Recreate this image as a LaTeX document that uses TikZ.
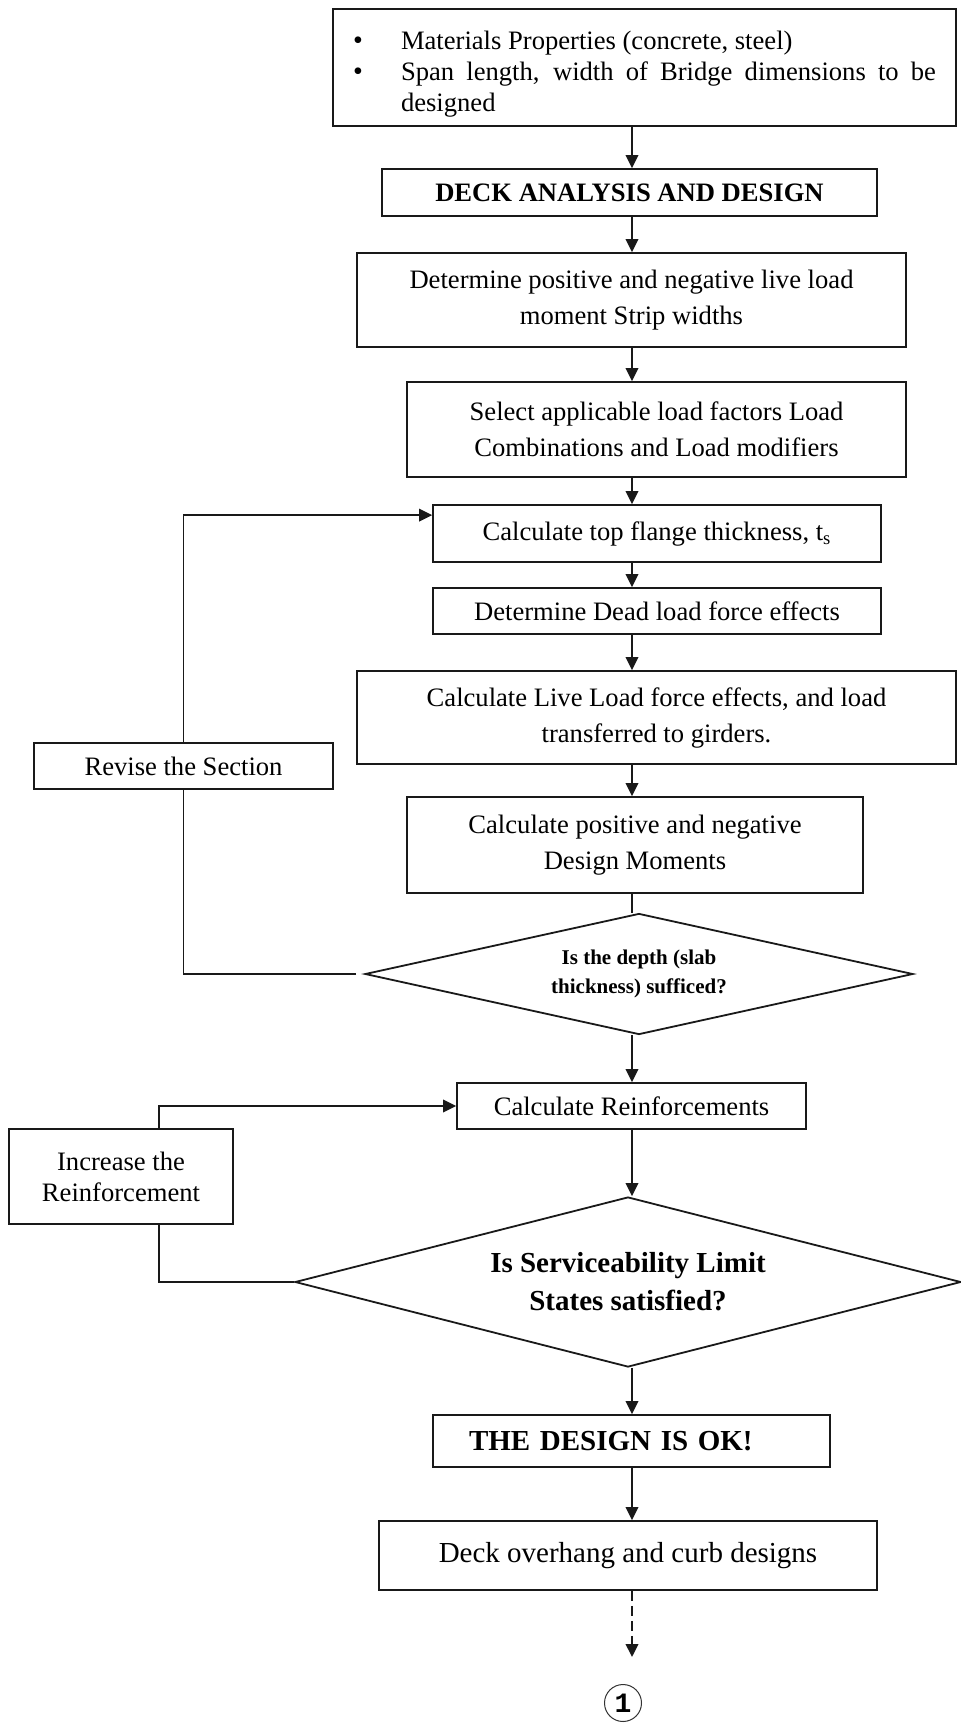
\documentclass[tikz,border=0pt]{standalone}
\usepackage{fontspec}
\setmainfont{Liberation Serif}
\setmonofont{Liberation Mono}
\usetikzlibrary{arrows.meta,positioning,calc,shapes.geometric}

\newcommand\bulpar[1]{\par\noindent\hangindent=24pt\hangafter=1%
  \makebox[24pt][l]{\raisebox{-0.4pt}{\fontsize{14}{14}\selectfont\textbullet}}#1\par}

\begin{document}
\begin{tikzpicture}[
  x=0.5pt,y=-0.5pt,
  font=\fontsize{13.3}{18}\selectfont,
  proc/.style={draw=black!90,line width=0.9pt,align=center,inner sep=0pt},
  decide/.style={diamond,draw=black!90,line width=0.9pt,align=center,inner sep=0pt,
                 font=\bfseries\fontsize{10.5}{14.3}\selectfont},
  wire/.style={draw=black!90,line width=0.8pt},
  flow/.style={wire,-{Triangle[length=6.5pt,width=6.3pt]}},
  conn/.style={circle,draw=black!80,line width=0.5pt,minimum size=18.5pt,inner sep=0pt,
               font=\ttfamily\bfseries\fontsize{14}{14}\selectfont}
]
\useasboundingbox (0,0) rectangle (960,1723);

% ---- input data ----
\node[proc,minimum width=311.5pt,minimum height=58.5pt,text width=291.5pt,inner xsep=10pt,
      align=justify,font=\fontsize{13.3}{15.5}\selectfont] (inputs) at (644.5,67.5)
  {\tolerance=10000
   \bulpar{Materials Properties (concrete, steel)}
   \bulpar{Span length, width of Bridge dimensions to be\linebreak designed}};

% ---- deck column ----
\node[proc,minimum width=247.5pt,minimum height=23.5pt,font=\bfseries\fontsize{13.3}{16}\selectfont]
  (deck) at (629.5,192.5) {DECK ANALYSIS AND DESIGN};
\node[proc,minimum width=274.5pt,minimum height=47pt] (strip) at (631.5,300)
  {Determine positive and negative live load\\moment Strip widths};
\node[proc,minimum width=249.5pt,minimum height=47.5pt] (factors) at (656.5,429.5)
  {Select applicable load factors Load\\Combinations and Load modifiers};
\node[proc,minimum width=224pt,minimum height=28.5pt] (flange) at (657,533.5)
  {Calculate top flange thickness, t\textsubscript{s}};
\node[proc,minimum width=224pt,minimum height=23pt] (dead) at (657,611)
  {Determine Dead load force effects};
\node[proc,minimum width=299.5pt,minimum height=46.5pt] (live) at (656.5,717.5)
  {Calculate Live Load force effects, and load\\transferred to girders.};
\node[proc,minimum width=228pt,minimum height=48pt] (moments) at (635,845)
  {Calculate positive and negative\\Design Moments};
\node[decide,shape aspect=4.5,minimum width=274pt,minimum height=60.5pt] (depth) at (639,974)
  {Is the depth (slab\\thickness) sufficed?};
\node[proc,minimum width=149.5pt,minimum height=23pt] (revise) at (183.5,766)
  {Revise the Section};

% ---- reinforcement ----
\node[proc,minimum width=174.5pt,minimum height=23pt] (reinf) at (631.5,1106)
  {Calculate Reinforcements};
\node[proc,minimum width=112pt,minimum height=47.5pt,font=\fontsize{13.3}{15.5}\selectfont]
  (incr) at (121,1176.5) {Increase the\\Reinforcement};
\node[decide,shape aspect=3.9,minimum width=333pt,minimum height=85pt,
      font=\bfseries\fontsize{14.5}{19}\selectfont] (sls) at (628,1282)
  {Is Serviceability Limit\\States satisfied?};
\node[proc,minimum width=198.5pt,minimum height=26pt,text width=162.5pt,inner xsep=18pt,
      align=left,font=\bfseries\fontsize{14.5}{17}\selectfont] (ok) at (631.5,1441)
  {THE DESIGN IS OK!};
\node[proc,minimum width=249pt,minimum height=34.5pt,font=\fontsize{14.5}{17}\selectfont]
  (overhang) at (628,1555.5) {Deck overhang and curb designs};
\node[conn] (cont) at (623,1703) {1};

% ---- main flow ----
\coordinate (spine) at (632,0);
\foreach \a/\b in {inputs/deck,deck/strip,strip/factors,factors/flange,flange/dead,
                   dead/live,live/moments,depth/reinf,reinf/sls,sls/ok,ok/overhang}
  \draw[flow] (\a.south -| spine) -- (\b.north -| spine);
\draw[wire] (moments.south -| spine) -- (depth.north -| spine);
\draw[flow,dash pattern=on 5pt off 2.5pt] (overhang.south -| spine)
  -- ([yshift=13.5pt]cont.north -| spine);

% ---- loops back ----
\draw[wire,shorten <=4pt] (depth.west) -| (revise.south);
\draw[flow] (revise.north) |- ([yshift=-5.5pt]flange.north west);
\coordinate (lp2) at (159,1106);
\draw[wire] (sls.west) -| (lp2 |- incr.south);
\draw[flow] (lp2 |- incr.north) |- (reinf.west);

\end{tikzpicture}
\end{document}
